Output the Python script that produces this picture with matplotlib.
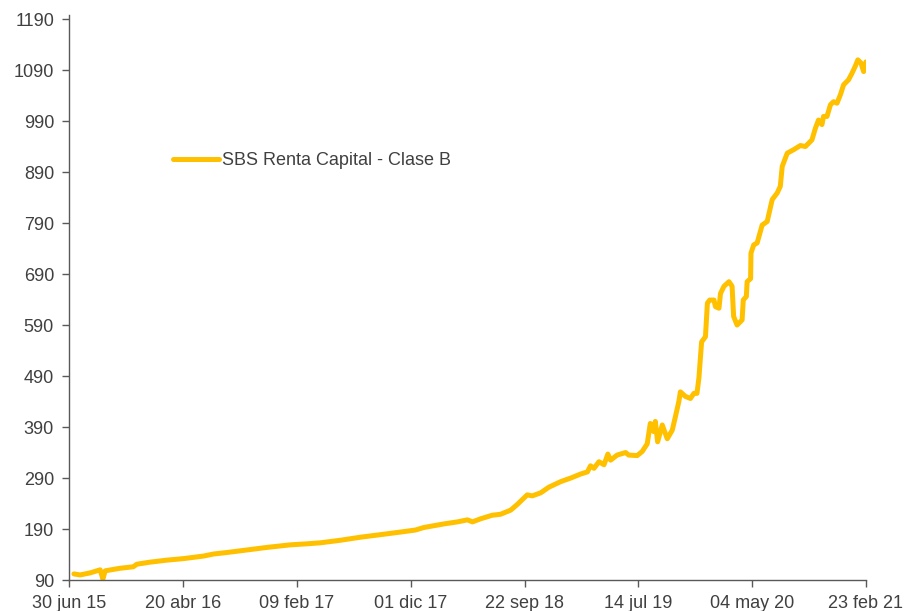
import matplotlib
matplotlib.use("Agg")
import matplotlib.pyplot as plt
import numpy as np
import pandas as pd

# values
dates = [
    "2015-07-12", "2015-07-28", "2015-08-23", "2015-09-18", "2015-09-25", "2015-10-01",
    "2015-11-08", "2015-12-13", "2015-12-22", "2016-01-25", "2016-03-09", "2016-04-21",
    "2016-06-12", "2016-07-08", "2016-08-12", "2016-10-03", "2016-11-24", "2017-01-23",
    "2017-03-07", "2017-04-11", "2017-06-02", "2017-07-24", "2017-09-14", "2017-11-04",
    "2017-12-13", "2018-01-04", "2018-02-25", "2018-04-01", "2018-04-27", "2018-05-10",
    "2018-05-31", "2018-06-30", "2018-07-22", "2018-08-17", "2018-09-03", "2018-09-29",
    "2018-10-12", "2018-11-03", "2018-11-24", "2018-12-25", "2019-01-20", "2019-02-15",
    "2019-03-04", "2019-03-12", "2019-03-21", "2019-04-03", "2019-04-16", "2019-04-26",
    "2019-05-03", "2019-05-20", "2019-06-11", "2019-06-19", "2019-07-11", "2019-07-24",
    "2019-08-06", "2019-08-14", "2019-08-23", "2019-08-27", "2019-09-02", "2019-09-14",
    "2019-09-27", "2019-10-10", "2019-10-18", "2019-10-27", "2019-10-31", "2019-11-13",
    "2019-11-26", "2019-12-05", "2019-12-13", "2019-12-18", "2019-12-25", "2020-01-04",
    "2020-01-09", "2020-01-15", "2020-01-26", "2020-01-30", "2020-02-08", "2020-02-12",
    "2020-02-21", "2020-03-05", "2020-03-13", "2020-03-17", "2020-03-26", "2020-04-08",
    "2020-04-11", "2020-04-19", "2020-04-21", "2020-04-30", "2020-05-01", "2020-05-08",
    "2020-05-17", "2020-05-30", "2020-06-12", "2020-06-25", "2020-07-08", "2020-07-16",
    "2020-07-21", "2020-08-03", "2020-08-20", "2020-09-06", "2020-09-19", "2020-10-06",
    "2020-10-15", "2020-10-23", "2020-11-01", "2020-11-05", "2020-11-14", "2020-11-23",
    "2020-12-01", "2020-12-10", "2020-12-19", "2020-12-27", "2021-01-09", "2021-01-18",
    "2021-01-26", "2021-02-02", "2021-02-10", "2021-02-17", "2021-02-23",
]
values = [
    102, 100, 104, 110, 92, 108,
    113, 116, 121, 125, 129, 132,
    137, 141, 144, 149, 154, 159,
    161, 163, 168, 174, 179, 184,
    188, 193, 200, 204, 208, 204,
    210, 217, 219, 227, 238, 257,
    255, 261, 272, 283, 290, 298,
    302, 314, 309, 322, 316, 337,
    325, 335, 340, 335, 334, 342,
    357, 397, 381, 401, 361, 394,
    367, 384, 410, 440, 459, 450,
    446, 456, 456, 486, 557, 567,
    633, 639, 639, 626, 623, 652,
    666, 675, 666, 607, 590, 600,
    639, 646, 675, 681, 731, 747,
    751, 786, 793, 836, 849, 862,
    901, 927, 934, 942, 940, 953,
    976, 992, 983, 999, 999, 1022,
    1028, 1025, 1042, 1061, 1071, 1084,
    1097, 1110, 1104, 1087, 1106,
]
tick_dates = ["2015-06-30", "2016-04-20", "2017-02-09", "2017-12-01",
              "2018-09-22", "2019-07-14", "2020-05-04", "2021-02-23"]
tick_labels = ["30 jun 15", "20 abr 16", "09 feb 17", "01 dic 17",
               "22 sep 18", "14 jul 19", "04 may 20", "23 feb 21"]
y_ticks = np.arange(90, 1191, 100)
series_name = "SBS Renta Capital - Clase B"

plt.rcParams["font.family"] = ["Liberation Sans", "DejaVu Sans"]

x = pd.to_datetime(dates)
ticks = pd.to_datetime(tick_dates)

fig = plt.figure(figsize=(9.12, 6.11), dpi=100)
ax = fig.add_axes([0.076, 0.0507, 0.8735, 0.9248])
ax.plot(x, values, color="#FFC000", lw=3.6, solid_joinstyle="round",
        solid_capstyle="round", label=series_name)

ax.set_xlim(ticks[0], ticks[-1])
ax.set_ylim(90, 1198)
ax.set_xticks(ticks)
ax.set_xticklabels(tick_labels)
ax.set_yticks(y_ticks)

for side in ["top", "right"]:
    ax.spines[side].set_visible(False)
for side in ["left", "bottom"]:
    ax.spines[side].set_color("#595959")
    ax.spines[side].set_linewidth(1.0)
ax.tick_params(axis="both", direction="out", length=5, width=1.0,
               color="#595959", labelcolor="#404040", labelsize=13)
ax.tick_params(axis="x", pad=6)
ax.tick_params(axis="y", pad=6)

ax.legend(loc="center left", bbox_to_anchor=(0.1895, 0.7367), bbox_transform=fig.transFigure,
          frameon=False, fontsize=13, handlelength=2.55, handletextpad=0.2,
          labelcolor="#404040", borderaxespad=0, borderpad=0)

fig.savefig("out.png", dpi=100, facecolor="white")
